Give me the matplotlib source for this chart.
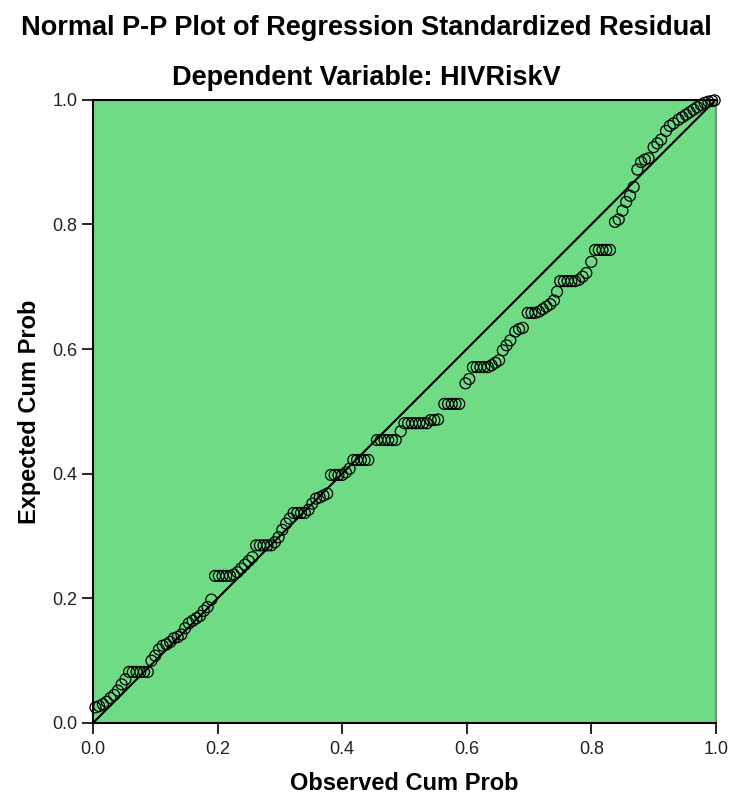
import matplotlib
matplotlib.use("Agg")
import matplotlib.pyplot as plt

# observed cum prob (x) and expected cum prob (y)
obs_cum = [0.004, 0.010, 0.016, 0.022, 0.028, 0.034, 0.040, 0.046, 0.052,
           0.058, 0.064, 0.070, 0.076, 0.082, 0.088,
           0.094, 0.100, 0.106, 0.112, 0.118, 0.124, 0.130, 0.136, 0.142, 0.148,
           0.154, 0.160, 0.166, 0.172, 0.178, 0.184, 0.190,
           0.196, 0.202, 0.208, 0.214, 0.220, 0.226, 0.232,
           0.238, 0.244, 0.250, 0.256,
           0.262, 0.268, 0.274, 0.280, 0.286, 0.292, 0.298,
           0.304, 0.310, 0.316,
           0.322, 0.328, 0.334, 0.340, 0.346, 0.352,
           0.358, 0.364, 0.370, 0.376,
           0.382, 0.388, 0.394, 0.400, 0.406, 0.412,
           0.418, 0.424, 0.430, 0.436, 0.442,
           0.456, 0.462, 0.468, 0.474, 0.480, 0.486,
           0.494,
           0.500, 0.506, 0.512, 0.518, 0.524, 0.530, 0.536,
           0.542, 0.548, 0.554,
           0.564, 0.570, 0.576, 0.582, 0.588,
           0.598, 0.604,
           0.610, 0.616, 0.622, 0.628, 0.634, 0.640, 0.646, 0.652,
           0.658, 0.664, 0.670,
           0.678, 0.684, 0.690,
           0.698, 0.704, 0.710, 0.716,
           0.722, 0.728, 0.734, 0.740,
           0.745,
           0.750, 0.756, 0.762, 0.768, 0.774, 0.780,
           0.786, 0.792,
           0.800,
           0.806, 0.812, 0.818, 0.824, 0.830,
           0.838, 0.844, 0.850, 0.856, 0.862, 0.868,
           0.874, 0.880, 0.886, 0.892,
           0.900, 0.906, 0.912,
           0.920, 0.926, 0.932,
           0.940, 0.946, 0.952, 0.958,
           0.964, 0.970, 0.976, 0.982,
           0.988, 0.994, 0.998]

exp_cum = [0.025, 0.027, 0.030, 0.034, 0.040, 0.045, 0.052, 0.062, 0.070,
           0.082, 0.082, 0.082, 0.082, 0.082, 0.082,
           0.100, 0.108, 0.118, 0.124, 0.126, 0.130, 0.136, 0.138, 0.142, 0.152,
           0.160, 0.164, 0.168, 0.172, 0.180, 0.186, 0.198,
           0.236, 0.236, 0.236, 0.236, 0.236, 0.238, 0.242,
           0.248, 0.254, 0.260, 0.266,
           0.285, 0.285, 0.285, 0.285, 0.285, 0.290, 0.298,
           0.310, 0.320, 0.328,
           0.337, 0.337, 0.337, 0.337, 0.342, 0.352,
           0.360, 0.362, 0.365, 0.368,
           0.398, 0.398, 0.398, 0.398, 0.402, 0.408,
           0.422, 0.422, 0.422, 0.422, 0.422,
           0.454, 0.454, 0.454, 0.454, 0.454, 0.454,
           0.468,
           0.481, 0.481, 0.481, 0.481, 0.481, 0.481, 0.481,
           0.486, 0.486, 0.487,
           0.512, 0.512, 0.512, 0.512, 0.512,
           0.545, 0.552,
           0.571, 0.571, 0.571, 0.571, 0.571, 0.574, 0.578, 0.582,
           0.598, 0.606, 0.614,
           0.628, 0.632, 0.634,
           0.658, 0.658, 0.658, 0.660,
           0.664, 0.668, 0.672, 0.678,
           0.692,
           0.709, 0.709, 0.709, 0.709, 0.709, 0.711,
           0.716, 0.722,
           0.740,
           0.759, 0.759, 0.759, 0.759, 0.759,
           0.804, 0.808, 0.822, 0.836, 0.846, 0.860,
           0.888, 0.900, 0.904, 0.906,
           0.924, 0.930, 0.936,
           0.950, 0.958, 0.962,
           0.968, 0.972, 0.976, 0.980,
           0.984, 0.988, 0.992, 0.995,
           0.997, 0.998, 0.999]

ref_line = [0.0, 1.0]
ticks = [0.0, 0.2, 0.4, 0.6, 0.8, 1.0]

plt.rcParams['font.family'] = ['Liberation Sans', 'DejaVu Sans']

fig = plt.figure(figsize=(7.32, 7.98), dpi=100)
ax = fig.add_axes([0.127, 0.094, 0.851, 0.781])
ax.set_facecolor('#6fdc85')

ax.plot(ref_line, ref_line, color='black', linewidth=1.5, zorder=2)
ax.scatter(obs_cum, exp_cum, s=62, facecolors='none', edgecolors='black',
           linewidths=0.9, zorder=3, clip_on=False)

ax.set_xlim(0, 1)
ax.set_ylim(0, 1)
ax.set_xticks(ticks)
ax.set_yticks(ticks)
ax.set_xticklabels([f"{t:.1f}" for t in ticks])
ax.set_yticklabels([f"{t:.1f}" for t in ticks])
ax.tick_params(direction='out', length=8, width=1.2, labelsize=13,
               colors='black', labelcolor='#222222', pad=3)
ax.tick_params(axis='x', pad=5)

for side in ['left', 'bottom', 'top']:
    ax.spines[side].set_color('black')
    ax.spines[side].set_linewidth(1.5)
ax.spines['right'].set_color('#888888')
ax.spines['right'].set_linewidth(1.5)

ax.set_xlabel("Observed Cum Prob", fontsize=17, fontweight='bold', labelpad=10)
ax.set_ylabel("Expected Cum Prob", fontsize=17, fontweight='bold', labelpad=8)

fig.text(0.5, 0.965, "Normal P-P Plot of Regression Standardized Residual",
         ha='center', va='center', fontsize=19.5, fontweight='bold')
fig.text(0.5, 0.902, "Dependent Variable: HIVRiskV",
         ha='center', va='center', fontsize=19.5, fontweight='bold')

fig.savefig("out.png", dpi=100)
